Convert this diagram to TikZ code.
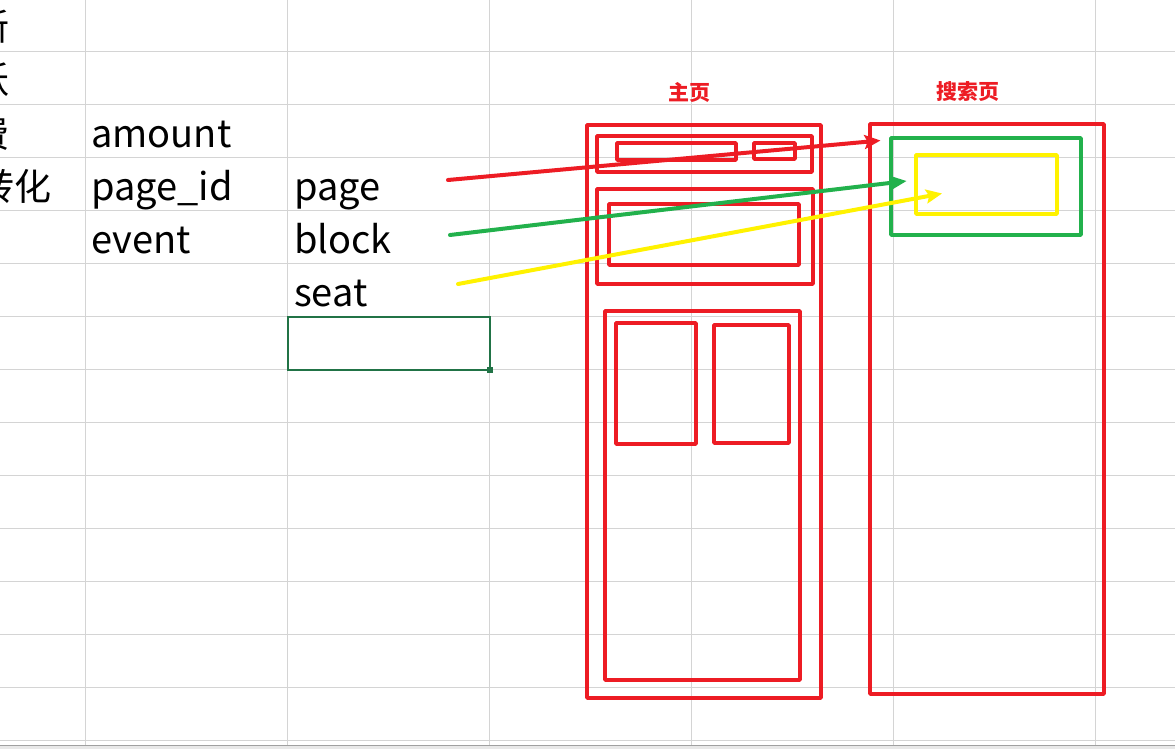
\documentclass[tikz,border=0pt]{standalone}
\usepackage{fontspec}
\usepackage{xcolor}
\usetikzlibrary{arrows.meta, positioning}
\newfontfamily\cjk{Noto Sans CJK SC}
\definecolor{gridColor}{RGB}{212, 212, 212}
\definecolor{sheetGreen}{RGB}{33, 115, 70}
\definecolor{paintRed}{RGB}{237, 28, 36}
\definecolor{paintGreen}{RGB}{34, 177, 76}
\definecolor{paintYellow}{RGB}{255, 242, 0}
\definecolor{barLine}{RGB}{160, 160, 160}
\definecolor{barFill}{RGB}{232, 232, 232}
\tikzset{
    grid_line/.style={
        draw=gridColor,
        line width=1pt
    },
    cell_text/.style={
        inner sep=0pt,
        anchor=base west,
        text=black,
        font=\cjk\fontsize{38}{38}\selectfont
    },
    cut_text/.style={
        inner sep=0pt,
        anchor=base east,
        text=black,
        font=\cjk\fontsize{37}{37}\selectfont
    },
    page_title/.style={
        inner sep=0pt,
        text=paintRed,
        font=\cjk\bfseries\fontsize{21}{21}\selectfont
    },
    wire_box/.style={
        draw=paintRed,
        line width=3.5pt,
        line join=round
    },
    link_edge/.style={
        -{Stealth[length=16pt, width=14pt, inset=3pt]},
        line width=4pt,
        line cap=round
    }
}
\begin{document}
\begin{tikzpicture}[x=1pt, y=-1pt]
        \useasboundingbox (0,0) rectangle (1175,749);
        \clip (0,0) rectangle (1175,749);

        % sheet grid
        \foreach \gx in {85.5, 287.5, 489.5, 691.5, 893.5, 1095.5}
            \draw[grid_line] (\gx,0) -- (\gx,745);
        \foreach \gy in {51.5, 104.5, ..., 740.5}
            \draw[grid_line] (0,\gy) -- (1175,\gy);
        \fill[barFill] (0,745) rectangle (1175,749);
        \draw[barLine, line width=1.5pt] (0,745.5) -- (1175,745.5);

        % cells
        \node[cut_text] (m_new) at (9.5,41) {新};
        \node[cut_text] (m_active) at (9.5,94) {跃};
        \node[cut_text] (m_pay) at (9.5,147) {费};
        \node[cut_text] (m_conv) at (52,200) {转化};
        \node[cell_text] (f_amount) at (91,147) {amount};
        \node[cell_text] (f_page_id) at (91,200) {page\_id};
        \node[cell_text] (f_event) at (91,253) {event};
        \node[cell_text] (v_page) at (294,200) {page};
        \node[cell_text] (v_block) at (294,253) {block};
        \node[cell_text] (v_seat) at (294,306) {seat};

        \draw[sheetGreen, line width=2pt] (287.5,316.5) rectangle (489.5,369.5);
        \fill[sheetGreen] (486.5,366.5) rectangle (492.5,372.5);

        % home page
        \node[page_title] (t_home) at (689,92) {主页};
        \draw[wire_box] (587,125) rectangle (821,698);
        \draw[wire_box] (597,136) rectangle (812,172);
        \draw[wire_box] (617,143) rectangle (736,160);
        \draw[wire_box] (754,143) rectangle (795,159);
        \draw[wire_box] (597,189) rectangle (813,284);
        \draw[wire_box] (609,204) rectangle (799,265);
        \draw[wire_box] (605,311) rectangle (800,680);
        \draw[wire_box] (616,323) rectangle (696,444);
        \draw[wire_box] (714,325) rectangle (789,443);

        % search page
        \node[page_title] (t_search) at (968,92) {搜索页};
        \draw[wire_box] (870,124) rectangle (1104,694);
        \draw[wire_box, draw=paintGreen] (891,138) rectangle (1081,235);
        \draw[wire_box, draw=paintYellow] (916,155) rectangle (1057,214);

        \coordinate (from_page) at (448,180);
        \coordinate (to_page) at (880.5,140.5);
        \coordinate (from_block) at (450,235);
        \coordinate (to_block) at (906.5,181);
        \coordinate (from_seat) at (458,284);
        \coordinate (to_seat) at (942,193.5);

        \draw[link_edge, draw=paintRed, fill=paintRed] (from_page) -- (to_page);
        \draw[link_edge, draw=paintGreen, fill=paintGreen] (from_block) -- (to_block);
        \draw[link_edge, draw=paintYellow, fill=paintYellow] (from_seat) -- (to_seat);
    \end{tikzpicture}
\end{document}
